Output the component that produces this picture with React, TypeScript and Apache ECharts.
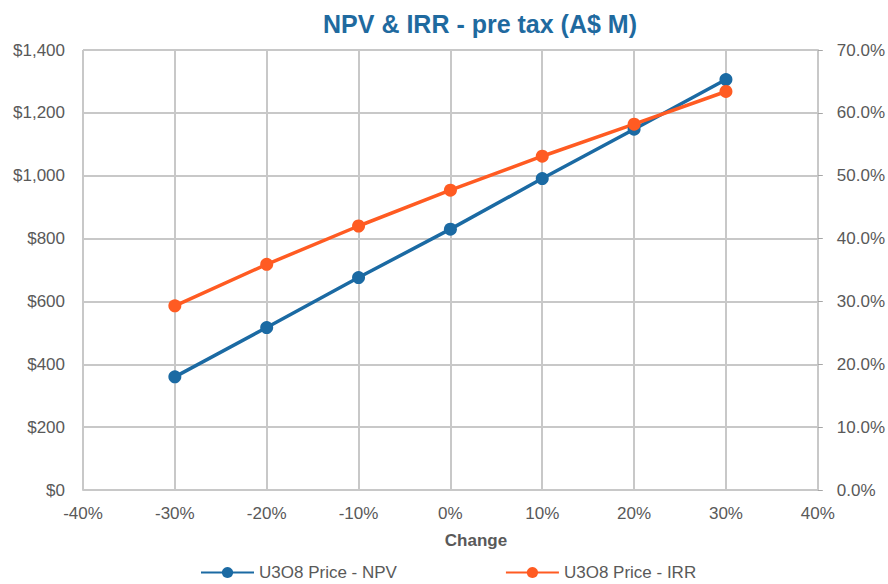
import React, { useEffect, useRef } from "react";
import * as echarts from "echarts";

const changes = [-30, -20, -10, 0, 10, 20, 30];
const npvValues = [360, 517, 676, 830, 991, 1148, 1306];
const irrValues = [29.3, 35.9, 42.0, 47.7, 53.1, 58.2, 63.4];
const titleText = "NPV & IRR - pre tax (A$ M)";
const xAxisName = "Change";
const npvName = "U3O8 Price - NPV";
const irrName = "U3O8 Price - IRR";

const FONT = "'Liberation Sans', Arial, sans-serif";
const BLUE = "#1b6aa3";
const ORANGE = "#ff5b22";
const GRID = "#c8c8c8";
const LABEL = "#595959";

export default function App() {
  const ref = useRef<HTMLDivElement>(null);
  useEffect(() => {
    if (!ref.current) return;
    const chart = echarts.init(ref.current, null, { renderer: "svg" });
    chart.setOption({
      animation: false,
      backgroundColor: "#ffffff",
      textStyle: { fontFamily: FONT },
      grid: { left: 83, right: 70, top: 50, bottom: 94, containLabel: false },
      graphic: [
        {
          type: "text",
          x: 480,
          y: 24,
          style: {
            text: titleText,
            fontFamily: FONT,
            fontSize: 25,
            fontWeight: "bold",
            fill: "#1f6a9f",
            align: "center",
            verticalAlign: "middle",
          },
        },
        {
          type: "text",
          x: 476,
          y: 540,
          style: {
            text: xAxisName,
            fontFamily: FONT,
            fontSize: 17,
            fontWeight: "bold",
            fill: LABEL,
            align: "center",
            verticalAlign: "middle",
          },
        },
      ],
      legend: {
        left: 200,
        top: 564,
        padding: 0,
        itemWidth: 53,
        itemHeight: 14,
        itemGap: 108,
        textStyle: { fontFamily: FONT, fontSize: 17, color: LABEL },
        data: [npvName, irrName],
      },
      xAxis: {
        type: "value",
        min: -40,
        max: 40,
        interval: 10,
        axisLine: { show: true, lineStyle: { color: GRID, width: 2 } },
        axisTick: { show: false },
        axisLabel: {
          formatter: (v: number) => `${v}%`,
          color: LABEL,
          fontSize: 17,
          fontFamily: FONT,
          margin: 15,
        },
        splitLine: { show: true, lineStyle: { color: GRID, width: 2 } },
      },
      yAxis: [
        {
          type: "value",
          min: 0,
          max: 1400,
          interval: 200,
          position: "left",
          axisLine: { show: true, lineStyle: { color: GRID, width: 2 } },
          axisTick: { show: false },
          axisLabel: {
            formatter: (v: number) => "$" + v.toLocaleString("en-US"),
            color: LABEL,
            fontSize: 17,
            fontFamily: FONT,
            margin: 18,
          },
          splitLine: { show: true, lineStyle: { color: GRID, width: 2 } },
        },
        {
          type: "value",
          min: 0,
          max: 70,
          interval: 10,
          position: "right",
          axisLine: { show: true, lineStyle: { color: GRID, width: 2 } },
          axisTick: { show: true, length: 5, lineStyle: { color: "#a6a6a6", width: 1 } },
          axisLabel: {
            formatter: (v: number) => v.toFixed(1) + "%",
            color: LABEL,
            fontSize: 17,
            fontFamily: FONT,
            margin: 19,
          },
          splitLine: { show: false },
        },
      ],
      series: [
        {
          name: npvName,
          type: "line",
          yAxisIndex: 0,
          data: changes.map((c, i) => [c, npvValues[i]]),
          symbol: "circle",
          symbolSize: 13,
          lineStyle: { color: BLUE, width: 3.5 },
          itemStyle: { color: BLUE },
        },
        {
          name: irrName,
          type: "line",
          yAxisIndex: 1,
          data: changes.map((c, i) => [c, irrValues[i]]),
          symbol: "circle",
          symbolSize: 13,
          lineStyle: { color: ORANGE, width: 3.5 },
          itemStyle: { color: ORANGE },
        },
      ],
    });
    return () => chart.dispose();
  }, []);
  return (
    <div
      ref={ref}
      style={{ position: "fixed", left: 0, top: 0, width: 888, height: 584 }}
    />
  );
}
